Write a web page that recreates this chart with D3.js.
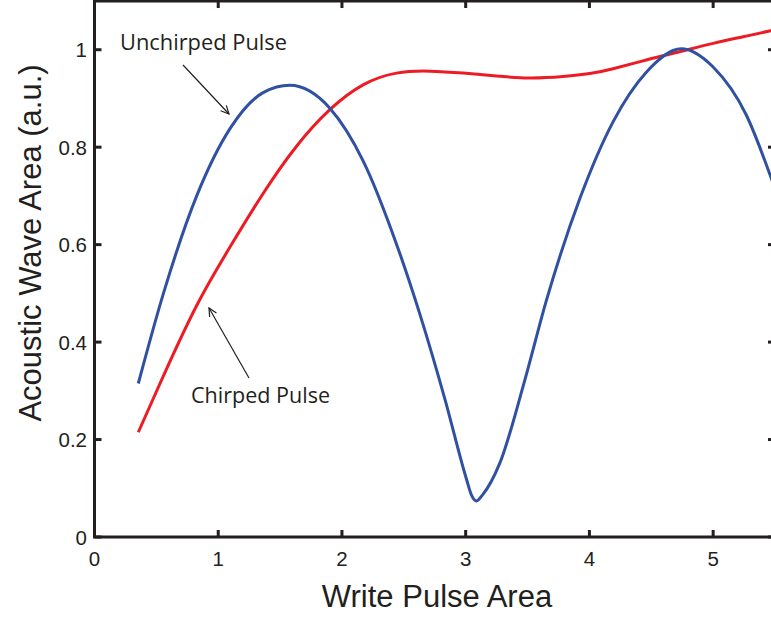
<html>
<head>
  <script src="https://d3js.org/d3.v7.min.js"></script>
  <style>
    body { margin: 0; background: #fff; }
    .tick-label { font-family: "Liberation Sans", Arial, sans-serif; font-size: 20.5px; fill: #231f20; }
    .axis-title { font-family: "Liberation Sans", Arial, sans-serif; font-size: 31px; fill: #231f20; }
    .note { font-family: "Open Sans", sans-serif; font-size: 21px; fill: #231f20; }
  </style>
</head>
<body>
<svg id="plot" width="771" height="617"></svg>
<script>
// data
const unchirpedX = [0.354, 0.556, 0.826, 1.095, 1.363, 1.579, 1.902, 2.171, 2.441, 2.629, 2.831, 3.006, 3.047, 3.087, 3.135, 3.275, 3.477, 3.653, 3.922, 4.191, 4.460, 4.743, 4.998, 5.268, 5.456, 5.52];
const unchirpedY = [0.315, 0.499, 0.700, 0.838, 0.912, 0.927, 0.880, 0.772, 0.601, 0.458, 0.284, 0.119, 0.086, 0.074, 0.086, 0.151, 0.321, 0.486, 0.694, 0.852, 0.954, 1.002, 0.965, 0.866, 0.746, 0.70];
const chirpedX = [0.354, 0.556, 0.826, 1.095, 1.363, 1.633, 1.902, 2.171, 2.441, 2.710, 2.979, 3.249, 3.518, 3.787, 4.002, 4.191, 4.460, 4.729, 5.0, 5.25, 5.464, 5.52];
const chirpedY = [0.215, 0.330, 0.475, 0.595, 0.705, 0.802, 0.877, 0.928, 0.952, 0.956, 0.952, 0.946, 0.942, 0.945, 0.951, 0.961, 0.979, 0.996, 1.013, 1.027, 1.039, 1.042];
const xTicks = [0, 1, 2, 3, 4, 5];
const yTicks = [0, 0.2, 0.4, 0.6, 0.8, 1];

const svg = d3.select("#plot");
const ink = "#231f20";
const xScale = d3.scaleLinear().domain([0, 5.5]).range([94.5, 775]);
const yScale = d3.scaleLinear().domain([0, 1.1]).range([537, 1]);

// clip for curves
svg.append("clipPath").attr("id", "clip")
   .append("rect").attr("x", xScale(0)).attr("y", yScale(1.1))
   .attr("width", xScale(5.5) - xScale(0)).attr("height", yScale(0) - yScale(1.1));

const redLine = d3.line().x(d => xScale(d[0])).y(d => yScale(d[1])).curve(d3.curveNatural);
const blueLine = d3.line().x(d => xScale(d[0])).y(d => yScale(d[1])).curve(d3.curveMonotoneX);

svg.append("path").datum(d3.zip(chirpedX, chirpedY))
   .attr("d", redLine).attr("fill", "none").attr("stroke", "#ed1c24").attr("stroke-width", 3)
   .attr("clip-path", "url(#clip)");
svg.append("path").datum(d3.zip(unchirpedX, unchirpedY))
   .attr("d", blueLine).attr("fill", "none").attr("stroke", "#3050a2").attr("stroke-width", 3)
   .attr("clip-path", "url(#clip)");

// frame
const frame = svg.append("g");
frame.append("rect").attr("x", xScale(0)).attr("y", yScale(1.1))
     .attr("width", xScale(5.5) - xScale(0)).attr("height", yScale(0) - yScale(1.1))
     .attr("fill", "none").attr("stroke", ink).attr("stroke-width", 3);

// ticks (inward, all four sides)
const tl = 7;
frame.selectAll("line.xb").data(xTicks).join("line").attr("class", "xb")
     .attr("x1", d => xScale(d)).attr("x2", d => xScale(d))
     .attr("y1", yScale(0)).attr("y2", yScale(0) - tl)
     .attr("stroke", ink).attr("stroke-width", 3);
frame.selectAll("line.xt").data(xTicks).join("line").attr("class", "xt")
     .attr("x1", d => xScale(d)).attr("x2", d => xScale(d))
     .attr("y1", yScale(1.1)).attr("y2", yScale(1.1) + tl)
     .attr("stroke", ink).attr("stroke-width", 3);
frame.selectAll("line.yl").data(yTicks).join("line").attr("class", "yl")
     .attr("x1", xScale(0)).attr("x2", xScale(0) + tl)
     .attr("y1", d => yScale(d)).attr("y2", d => yScale(d))
     .attr("stroke", ink).attr("stroke-width", 3);
frame.selectAll("line.yr").data(yTicks).join("line").attr("class", "yr")
     .attr("x1", xScale(5.5)).attr("x2", xScale(5.5) - tl)
     .attr("y1", d => yScale(d)).attr("y2", d => yScale(d))
     .attr("stroke", ink).attr("stroke-width", 3);

// tick labels
svg.selectAll("text.xl").data(xTicks).join("text").attr("class", "tick-label xl")
   .attr("x", d => xScale(d)).attr("y", 566).attr("text-anchor", "middle")
   .text(d => d);
svg.selectAll("text.yt").data(yTicks).join("text").attr("class", "tick-label yt")
   .attr("x", 87).attr("y", d => yScale(d) + 7.5).attr("text-anchor", "end")
   .text(d => d);

// axis titles
svg.append("text").attr("class", "axis-title").attr("x", 437).attr("y", 607)
   .attr("text-anchor", "middle").text("Write Pulse Area");
svg.append("text").attr("class", "axis-title")
   .attr("transform", "translate(41,243) rotate(-90)")
   .attr("text-anchor", "middle").text("Acoustic Wave Area (a.u.)");

// annotations
function arrow(x1, y1, x2, y2) {
  const g = svg.append("g").attr("stroke", ink).attr("stroke-width", 1.2).attr("fill", "none");
  g.append("line").attr("x1", x1).attr("y1", y1).attr("x2", x2).attr("y2", y2);
  const a = Math.atan2(y2 - y1, x2 - x1), h = 9, w = 0.45;
  g.append("path").attr("d",
    "M" + (x2 - h * Math.cos(a - w)) + "," + (y2 - h * Math.sin(a - w)) +
    "L" + x2 + "," + y2 +
    "L" + (x2 - h * Math.cos(a + w)) + "," + (y2 - h * Math.sin(a + w)));
}
svg.append("text").attr("class", "note").attr("x", 120).attr("y", 50)
   .attr("textLength", 167).attr("lengthAdjust", "spacingAndGlyphs").text("Unchirped Pulse");
arrow(183, 65, 229, 114);
svg.append("text").attr("class", "note").attr("x", 191).attr("y", 403)
   .attr("textLength", 139).attr("lengthAdjust", "spacingAndGlyphs").text("Chirped Pulse");
arrow(249, 378, 209, 308);
</script>
</body>
</html>
